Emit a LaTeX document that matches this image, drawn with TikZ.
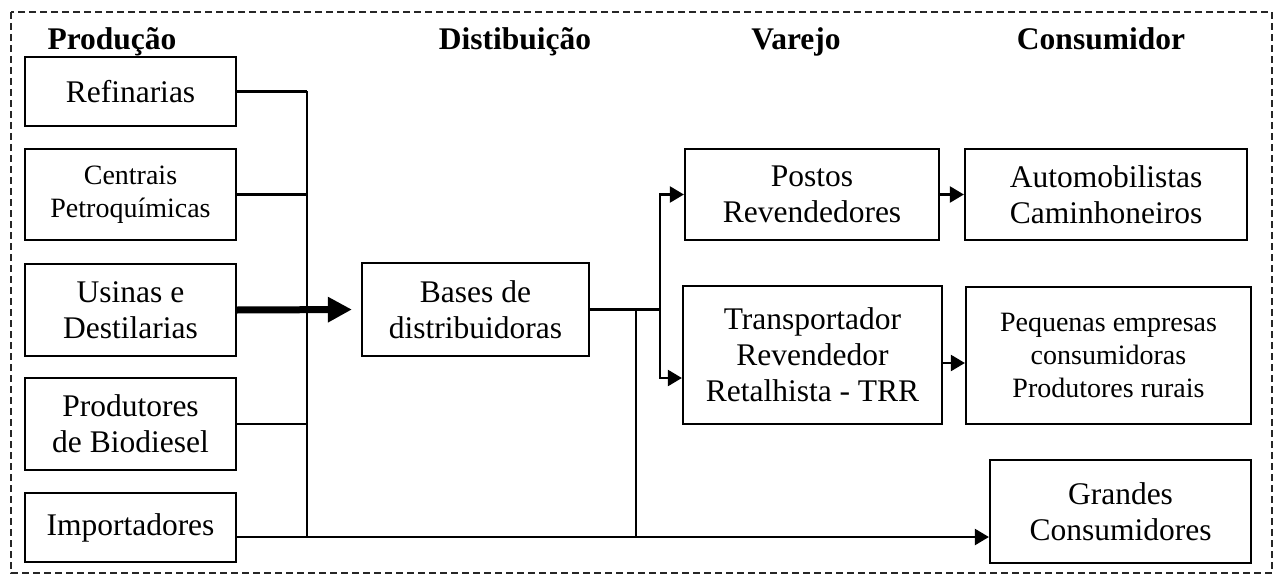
\documentclass[tikz,border=0pt]{standalone}
\usepackage{fontspec}
\setmainfont{Liberation Serif}
\usetikzlibrary{arrows.meta}
\begin{document}
\begin{tikzpicture}[x=1pt,y=-1pt,
 box/.style={draw,line width=2.2pt,align=center,inner sep=2pt,font=\fontsize{31.5}{36}\selectfont},
 sbox/.style={box,font=\fontsize{28}{33}\selectfont},
 hdr/.style={anchor=base,font=\fontsize{31.5}{36}\selectfont\bfseries},
 conn/.style={line width=2.2pt},
 arr/.style={conn,-{Triangle[length=14pt,width=16pt]}},
 frame/.style={line width=1.4pt,dash pattern=on 7pt off 4pt,black!85}
 ]
\useasboundingbox (0,0) rectangle (1279,575);
\draw[frame] (11,12) rectangle (1272,573);
% headers
\node[hdr,anchor=base west] (h1) at (44,50) {Produção};
\node[hdr] (h2) at (515,50) {Distibuição};
\node[hdr] (h3) at (796,50) {Varejo};
\node[hdr] (h4) at (1101,50) {Consumidor};
% production boxes
\node[box,minimum width=211pt,minimum height=69pt] (ref) at (130.5,91.5) {Refinarias};
\node[sbox,minimum width=211pt,minimum height=91pt] (cen) at (130.5,194.5) {Centrais\\Petroquímicas};
\node[box,minimum width=211pt,minimum height=92pt] (usi) at (130.5,310) {Usinas e\\Destilarias};
\node[box,minimum width=211pt,minimum height=92pt] (pro) at (130.5,424) {Produtores\\de Biodiesel};
\node[box,minimum width=211pt,minimum height=69pt] (imp) at (130.5,527.5) {Importadores};
% distribution
\node[box,minimum width=227pt,minimum height=93pt] (bas) at (475.5,309.5) {Bases de\\distribuidoras};
% retail
\node[box,minimum width=254pt,minimum height=91pt] (pos) at (812,194.5) {Postos\\Revendedores};
\node[box,minimum width=259pt,minimum height=138pt] (trr) at (812.5,355) {Transportador\\Revendedor\\Retalhista - TRR};
% consumers
\node[box,minimum width=282pt,minimum height=91pt] (aut) at (1106,194.5) {Automobilistas\\Caminhoneiros};
\node[sbox,minimum width=285pt,minimum height=137pt] (peq) at (1108.5,355.5) {Pequenas empresas\\consumidoras\\Produtores rurais};
\node[box,minimum width=261pt,minimum height=103pt] (gra) at (1120.5,511.5) {Grandes\\Consumidores};
% helper coordinates
\coordinate (bus) at (307,0);
\coordinate (v2) at (636,0);
\coordinate (split) at (660,0);
% production bus
\draw[conn] (ref.east) -- (ref.east -| bus);
\draw[conn] (cen.east) -- (cen.east -| bus);
\draw[conn] (pro.east) -- (pro.east -| bus);
\draw[conn] (ref.east -| bus) -- ([yshift=-10.5pt]imp.east -| bus);
\draw[arr] ([yshift=-9.5pt]imp.east) -- ([yshift=-9.5pt]imp.east -| gra.west);
% thick arrow
\draw[line width=7pt,-{Triangle[length=24pt,width=24pt]},shorten >=9pt] (usi.east) -- (bas.west);
% distribution branches
\draw[conn] (bas.east) -- (bas.east -| split);
\draw[conn] (bas.east -| v2) -- ([yshift=-10.5pt]imp.east -| v2);
\draw[arr] (bas.east -| split) |- (pos.west);
\draw[arr] (bas.east -| split) |- ([yshift=-23pt]trr.west);
% retail to consumers
\draw[arr] (pos.east) -- (aut.west);
\draw[arr] ([yshift=-8pt]trr.east) -- ([yshift=-8pt]trr.east -| peq.west);
\end{tikzpicture}
\end{document}
